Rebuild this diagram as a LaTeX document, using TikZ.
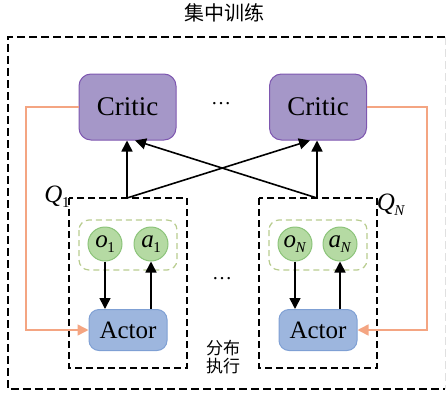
\documentclass[tikz,border=0pt]{standalone}
\usepackage{fontspec}
\setmainfont{Liberation Serif}
\newfontfamily\cjk{Noto Sans CJK SC}
\usetikzlibrary{arrows.meta}
\definecolor{critfill}{HTML}{A597C8}
\definecolor{critdraw}{HTML}{7E57B0}
\definecolor{actfill}{HTML}{9DB6DE}
\definecolor{actdraw}{HTML}{7FA0D4}
\definecolor{obsfill}{HTML}{B5DAA3}
\definecolor{obsdraw}{HTML}{8CC47A}
\definecolor{grpdraw}{HTML}{B8CC8F}
\definecolor{orangeln}{HTML}{F4A582}
\newcommand{\vsub}[2]{\textit{#1}\kern-0.5pt\raisebox{-5pt}{\fontsize{15}{16}\selectfont #2}}
\begin{document}
\begin{tikzpicture}[x=1pt,y=-1pt,
  critbox/.style={draw=critdraw,fill=critfill,line width=1pt,rounded corners=12pt,minimum width=97pt,minimum height=66pt,inner sep=0pt,font=\fontsize{27}{30}\selectfont},
  actbox/.style={draw=actdraw,fill=actfill,line width=1pt,rounded corners=10pt,minimum width=78pt,minimum height=41pt,inner sep=0pt,font=\fontsize{25}{28}\selectfont},
  obs/.style={circle,draw=obsdraw,fill=obsfill,line width=1pt,minimum size=34pt,inner sep=0pt,font=\fontsize{25}{28}\selectfont},
  grp/.style={draw=grpdraw,dashed,dash pattern=on 6pt off 4pt,line width=1.2pt,rounded corners=10pt},
  qbox/.style={draw=black,dash pattern=on 7pt off 4pt,line width=1.6pt},
  arr/.style={-{Triangle[length=11pt,width=11pt]},line width=1.6pt},
  oarr/.style={-{Triangle[length=11pt,width=11pt]},draw=orangeln,line width=1.5pt},
  lbl/.style={inner sep=0pt,font=\fontsize{25}{28}\selectfont},
  dotlbl/.style={inner sep=0pt,font=\fontsize{20}{24}\selectfont},
  cjklbl/.style={inner sep=0pt,font=\cjk\fontsize{17}{20}\selectfont}
]
\useasboundingbox (0,0) rectangle (446,404);
% title
\node[inner sep=0pt,font=\cjk\fontsize{20}{24}\selectfont] (title) at (224,13) {集中训练};
% outer box
\draw[dash pattern=on 8pt off 4pt,line width=1.6pt] (445,37) -- (8,37) -- (8,389) -- (445,389);
\draw[dash pattern=on 8pt off 4pt,line width=0.8pt,black!12] (445,37) -- (445,389);
% Q boxes
\draw[qbox] (69,198) rectangle (187,368);
\draw[qbox] (259,198) rectangle (377,368);
\coordinate (q1top) at (127,198);
\coordinate (qNtop) at (317,198);
\node[lbl] (q1lbl) at (57,197) {\vsub{Q}{1}};
\node[lbl] (qNlbl) at (391,205) {\vsub{Q}{\textit{N}}};
% groups
\draw[grp] (79,220) rectangle (177,270);
\draw[grp] (269,220) rectangle (367,270);
% critics
\node[critbox] (c1) at (127.5,107) {Critic};
\node[critbox] (c2) at (318,107) {Critic};
\node[dotlbl] (dots1) at (221,104) {…};
% actors
\node[actbox] (a1b) at (128,330) {Actor};
\node[actbox] (aNb) at (318,330) {Actor};
% circles
\node[obs] (o1) at (105,244) {\vsub{o}{1}};
\node[obs] (act1) at (151,244) {\vsub{a}{1}};
\node[obs] (oN) at (295,244) {\vsub{o}{\textit{N}}};
\node[obs] (actN) at (340,244) {\vsub{a}{\textit{N}}};
\node[dotlbl] (dots2) at (222,279) {…};
% Chinese label
\node[cjklbl,align=center] (fb) at (223,357) {分布\\[-2pt]执行};
% arrows
\draw[arr] (o1) -- (o1 |- a1b.north);
\draw[arr] (act1 |- a1b.north) -- (act1);
\draw[arr] (oN) -- (oN |- aNb.north);
\draw[arr] (actN |- aNb.north) -- (actN);
\draw[arr] (q1top) -- (q1top |- c1.south);
\draw[arr] (qNtop) -- (qNtop |- c2.south);
\draw[arr] (q1top) -- (310,140.5);
\draw[arr] (qNtop) -- (135,140.5);
% orange feedback
\draw[oarr] (c1.west) -- (26,107) -- (26,330) -- (a1b.west);
\draw[oarr] (c2.east) -- (427,107) -- (427,330) -- (aNb.east);
\end{tikzpicture}
\end{document}
